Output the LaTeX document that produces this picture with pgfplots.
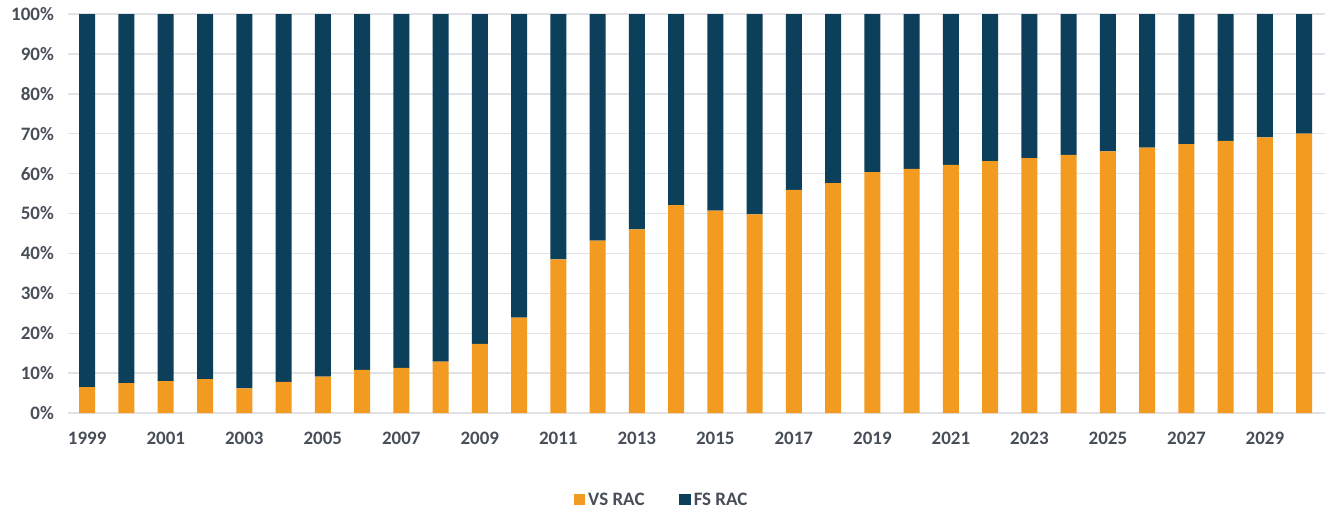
\documentclass[border=0pt]{standalone}
\usepackage{fontspec}
\setmainfont{Carlito}
\usepackage{pgfplots}
\pgfplotsset{compat=1.18}
\usepackage{pgfplotstable}
\usetikzlibrary{calc}

\definecolor{vsorange}{HTML}{F39A21}
\definecolor{fsteal}{HTML}{0B3F5A}
\definecolor{gridgray}{HTML}{E1E1E6}
\definecolor{txtgray}{HTML}{474E57}

% x = year - 1999
\pgfplotstableread{
x vs fs
0 6.5 93.5
1 7.5 92.5
2 8.0 92.0
3 8.5 91.5
4 6.2 93.8
5 7.8 92.2
6 9.1 90.9
7 10.8 89.2
8 11.3 88.7
9 12.9 87.1
10 17.3 82.7
11 23.9 76.1
12 38.5 61.5
13 43.2 56.8
14 46.0 54.0
15 52.1 47.9
16 50.7 49.3
17 49.8 50.2
18 55.9 44.1
19 57.6 42.4
20 60.4 39.6
21 61.2 38.8
22 62.2 37.8
23 63.1 36.9
24 63.9 36.1
25 64.7 35.3
26 65.6 34.4
27 66.5 33.5
28 67.4 32.6
29 68.2 31.8
30 69.1 30.9
31 70.0 30.0
}\racdata

\begin{document}
\begin{tikzpicture}
\begin{axis}[
  scale only axis,
  width=314.25mm, height=99.75mm,
  ybar stacked, bar width=4mm,
  xmin=-0.49, xmax=31.53,
  ymin=0, ymax=100,
  xtick={0,2,...,30},
  xticklabels={1999,2001,2003,2005,2007,2009,2011,2013,2015,2017,2019,2021,2023,2025,2027,2029},
  ytick={0,10,...,100},
  yticklabel={\pgfmathprintnumber{\tick}\%},
  /pgf/number format/assume math mode=true,
  ticklabel style={font=\fontsize{13.5}{14}\selectfont\bfseries, text=txtgray},
  yticklabel style={xshift=-2.3mm},
  xticklabel style={yshift=-3.6mm},
  major tick length=0pt,
  axis line style={draw=none},
  ymajorgrids, grid style={gridgray, line width=1pt},
  legend columns=2,
  legend style={draw=none, fill=none, at={(0.4726,0)}, anchor=center, yshift=-21.75mm,
    font=\fontsize{13.5}{14}\selectfont\bfseries, text=txtgray,
    /tikz/every even column/.append style={column sep=8mm}},
  legend image code/.code={\fill[#1] (0,-1.35mm) rectangle (2.9mm,1.55mm);},
]
\addplot[draw=none, fill=vsorange] table[x=x, y=vs] {\racdata};
\addlegendentry{VS RAC}
\addplot[draw=none, fill=fsteal] table[x=x, y=fs] {\racdata};
\addlegendentry{FS RAC}
\end{axis}
\pgfresetboundingbox
\path[use as bounding box] ($(current axis.south west)+(-17mm,-24.25mm)$) rectangle ($(current axis.north east)+(0,3.5mm)$);
\end{tikzpicture}
\end{document}
